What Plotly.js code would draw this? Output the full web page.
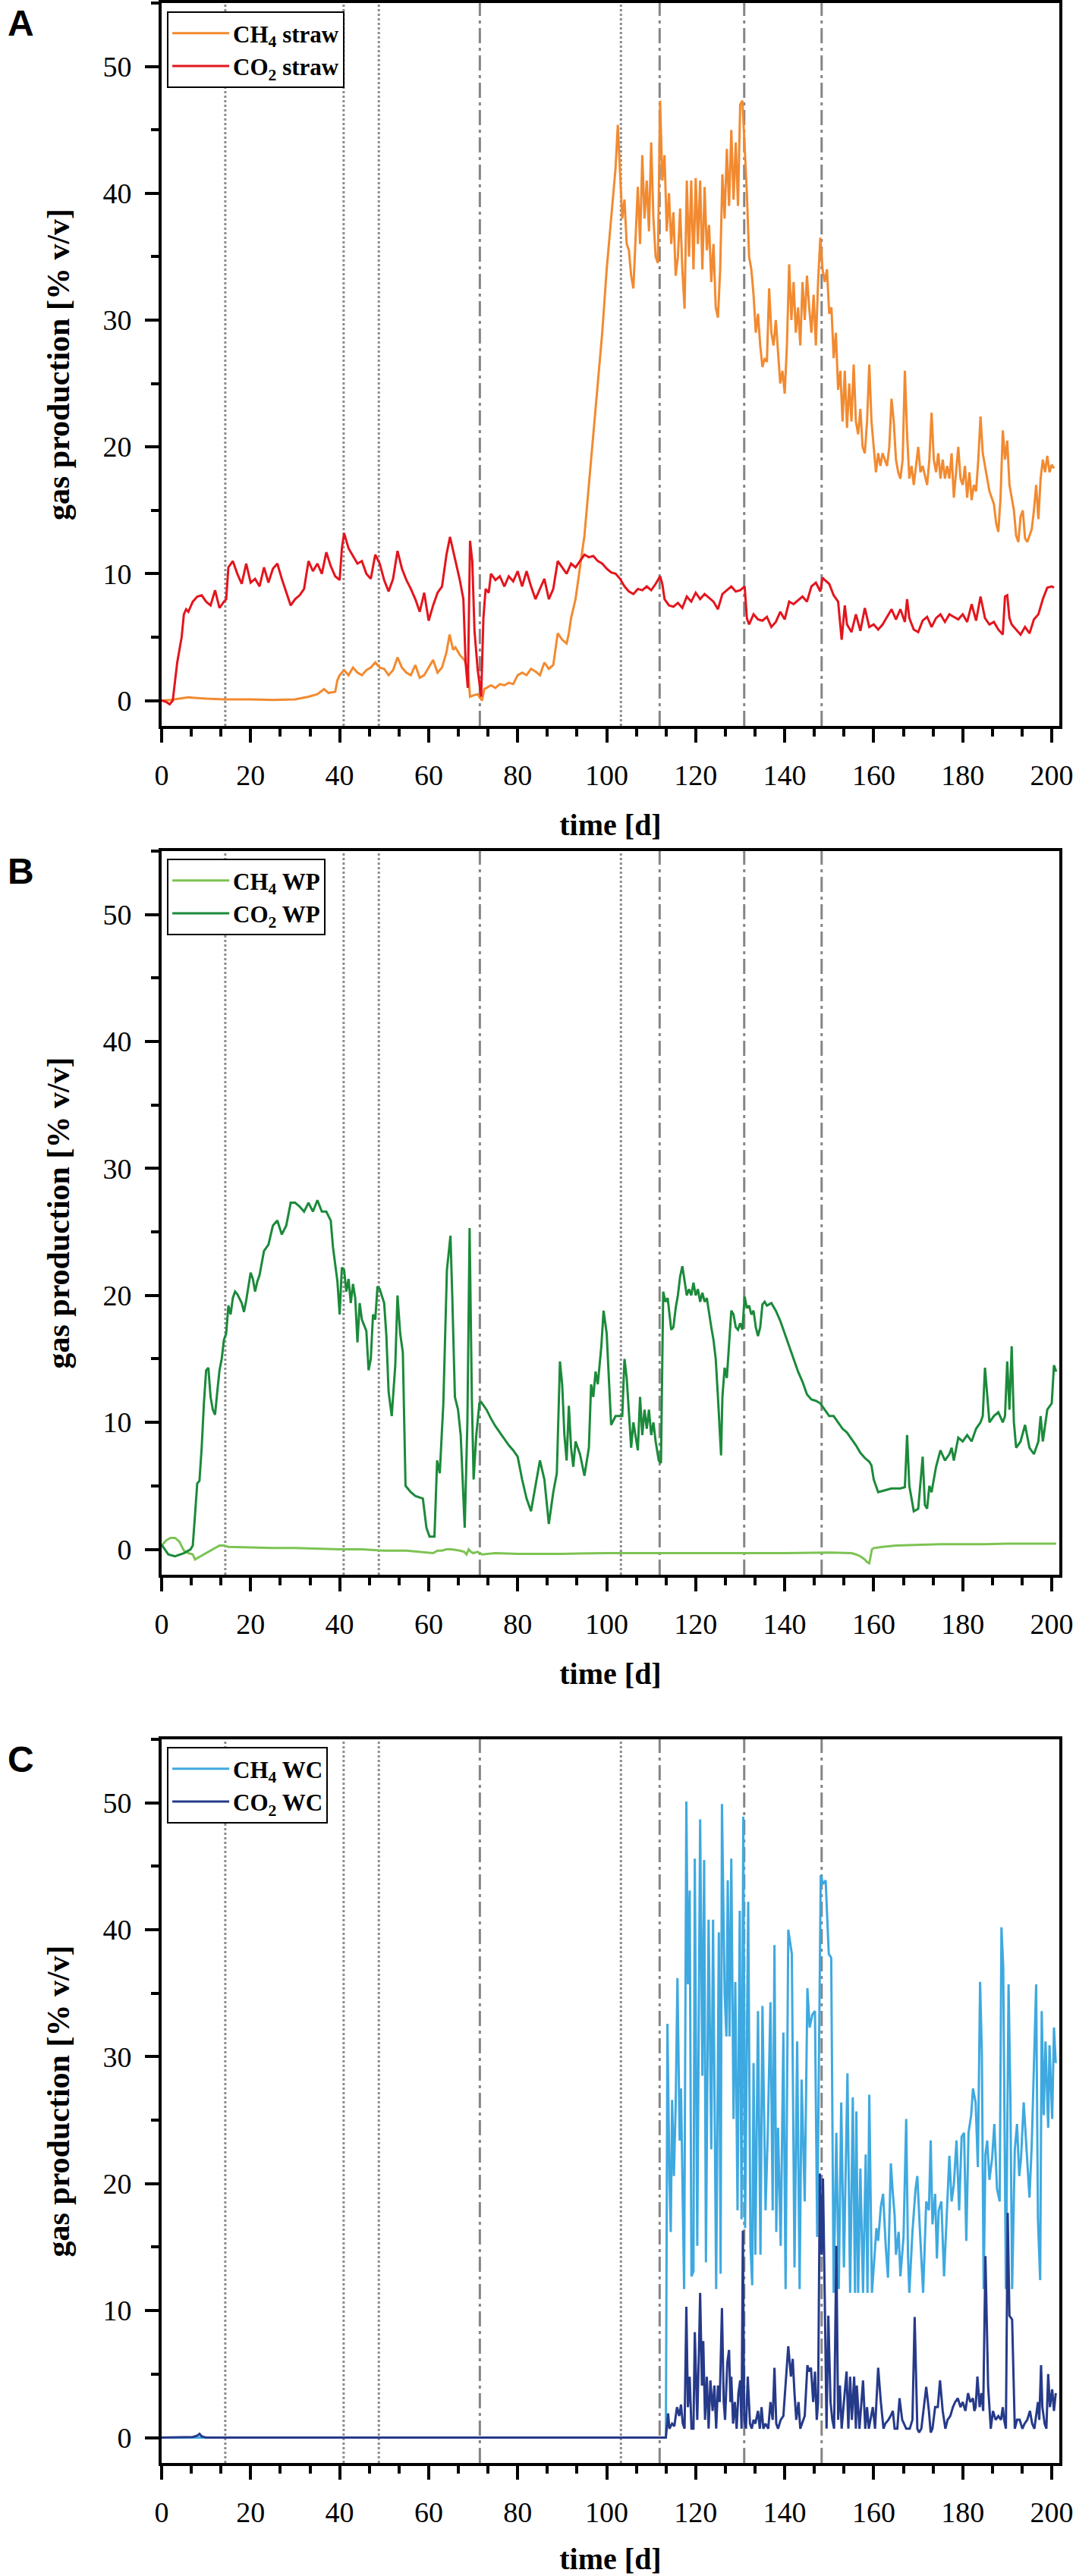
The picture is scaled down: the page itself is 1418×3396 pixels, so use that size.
<!DOCTYPE html>
<html>
<head>
<meta charset="utf-8">
<script src="https://cdn.plot.ly/plotly-3.0.1.min.js"></script>
<style>
html,body{margin:0;padding:0;background:#fff;}
#chart{width:1418px;height:3396px;}
</style>
</head>
<body>
<div id="chart"></div>
<script>
// ---------------- Panel A : straw ----------------
const dayA_CH4 = [0,2,4,6,8,10,14,20,25,30,33,35,36.5,37.5,39,39.5,40,41,42,43,44,45,46,47,48,49,50,51,52,53,54,55,56,57,58,59,60,61,62,63,64,64.7,65.5,66,67,68,68.8,69.3,70,71,72,72.5,73,74,75,76,77,78,79,80,81,82,83,84,85,86,87,88,89,90,91,91.5,92,93,94,95,96,97,98,99,100,101,102,102.5,103,103.5,104,104.5,105,105.5,106,106.5,107,107.5,108,108.5,109,109.5,110,110.5,111,111.5,112,112.5,113,113.5,114,114.5,115,115.5,116,116.5,117,117.5,118,118.5,119,119.5,120,120.5,121,121.5,122,122.5,123,123.5,124,124.5,125,125.5,126,126.5,127,127.5,128,128.5,129,129.5,130,130.5,131,131.5,132,132.5,133,133.5,134,134.5,135,135.5,136,136.5,137,137.5,138,138.5,139,139.5,140,140.5,141,141.5,142,142.5,143,143.5,144,144.5,145,145.5,146,146.5,147,147.5,148,148.5,149,149.5,150,150.5,151,151.5,152,152.5,153,153.5,154,154.5,155,155.5,156,156.5,157,157.5,158,158.5,159,159.5,160,160.5,161,161.5,162,163,163.5,164,164.5,165,165.5,166,166.5,167,167.5,168,168.5,169,170,170.5,171,172,172.5,173,173.5,174,174.5,175,175.5,176,176.5,177,177.5,178,178.5,179,179.5,180,180.5,181,181.5,182,182.5,183,183.5,184,184.5,185,185.5,186,186.5,187,187.5,188,188.5,189,189.5,190,190.5,191,191.5,192,192.5,193,193.5,194,194.5,195,195.5,196,196.5,197,197.5,198,198.5,199,199.5,200,200.5];
const valA_CH4 = [0,0.05,0.15,0.25,0.2,0.15,0.1,0.1,0.05,0.1,0.3,0.5,0.9,0.6,0.7,1.6,2.0,2.4,2.0,2.6,2.2,2.0,2.4,2.6,3.0,2.6,2.5,2.0,2.4,3.4,2.6,2.2,2.0,2.8,1.8,2.0,2.6,3.2,2.2,2.6,3.8,5.2,4.0,4.2,3.6,3.2,2.5,0.3,0.4,0.5,0.0,0.9,1.0,1.2,1.0,1.3,1.2,1.4,1.3,2.0,2.2,2.0,2.5,2.3,2.0,3.0,2.5,2.8,5.3,4.8,4.5,5.3,6.5,8.0,10.5,13.0,17,21,25,29,34,38,42,45.4,42,38,39.5,36,35.5,33.5,32.5,37,40.5,36,43,38,41,37,44,38,35,34.5,47.3,41,43,37,40,36,38.5,33.5,35,38.8,34,30.9,41,35,41,34,41.2,36,41,34,40.5,35.5,37.5,33,36,31,30.2,34,41.5,38,43.5,39,45,39.5,44,39,47,47.3,44,40,35,34,32,29,30.5,28,26.3,27,26.7,32.5,29,28,30,27.5,25,26,24.2,28,34.4,30,33,29,31,28,33,30,33.5,31,29,32,28,33,36.5,34,33,34,30.5,31,27,29,24.5,26,22,26,21.5,25,22,26.5,22,21,23,20,19.5,22,26.5,22,20,18,19.5,18.5,19.5,18.5,20,23.8,22,19,18,17.5,19,26,21,17.5,18.5,17,20,18,18.5,17,19,22.7,19,18,19.5,17.5,19,17.5,18.5,17.5,19.5,16,18,20,17.5,17,18.5,16,18,15.8,17,16.5,19,22.4,19.5,18.5,17.5,16.5,16,15.5,14,13.3,16,21.3,19,20.5,17,16,15,13,12.5,14.5,15,12.8,12.5,13,13.5,15,17,14.3,17.5,19,18,19.3,18,18.6,18.3];

const dayA_CO2 = [0,1,1.8,2.5,3,3.5,4,4.5,5,5.5,6,7,8,9,10,11,12,13,14,14.5,15,16,17,18,19,20,21,22,23,24,25,26,27,28,29,30,31,32,33,34,35,36,37,38,39,40,40.5,41,42,43,44,45,46,47,48,49,50,51,52,53,54,55,56,57,58,59,60,61,62,63,64,64.8,65.5,66,67,67.8,68.3,68.8,69.3,69.8,70.3,71,71.8,72.3,72.8,73.5,74,75,76,77,78,79,80,81,82,83,84,85,86,87,88,89,90,91,92,93,94,95,96,97,98,99,100,101,102,103,104,105,106,107,108,109,110,111,112,112.5,113,114,115,116,117,118,119,120,121,122,123,124,125,126,127,128,129,130,131,131.5,132,133,134,135,136,137,138,139,140,141,142,143,144,145,146,147,148,148.5,149,150,151,152,152.8,153.5,154,155,156,157,158,159,160,161,162,163,164,165,166,167,167.5,168,169,170,171,172,173,174,175,176,177,178,179,180,181,182,183,184,185,186,187,188,189,189.5,190,190.5,191,192,193,194,195,196,197,198,199,200,200.5];
const valA_CO2 = [0,-0.1,-0.3,0,1.5,3,4,5,6.8,7.2,7.0,7.8,8.2,8.3,7.8,7.5,8.7,7.3,7.8,8.0,10.5,11.0,10.0,9.2,10.8,9.3,9.6,9.0,10.5,9.3,10.4,10.8,9.6,8.6,7.5,8.0,8.3,8.8,11.0,10.2,10.8,10.0,11.7,10.6,9.8,9.5,12,13.2,12.0,11.4,10.8,11.0,10.0,9.6,11.5,10.8,9.5,8.6,9.6,11.8,10.4,9.5,8.8,8.0,7.0,8.5,6.3,7.5,8.5,9.0,11.5,12.9,11.8,11.0,9.5,8.0,3.0,1.0,12.6,11,5.5,2.5,0.3,6.5,8.8,8.5,10.0,9.5,9.8,9.0,9.8,9.4,10.2,9.0,10.2,9.0,8.0,8.8,9.6,8.0,8.8,11.0,10.5,10.0,10.8,10.5,11.0,11.5,11.3,11.4,11.0,10.8,10.4,10.1,10.0,9.6,9.0,8.6,8.4,8.8,8.7,9.0,8.7,9.2,9.8,9.2,8.0,7.5,7.4,7.7,7.3,8.2,7.8,8.5,8.0,8.4,8.1,7.8,7.2,8.4,8.7,9.0,8.6,8.7,9.0,6.5,6.0,6.8,6.4,6.3,6.6,5.8,6.2,7.0,6.4,7.8,7.6,7.9,8.2,7.8,9.0,9.3,8.6,9.7,9.5,9.2,8.3,7.8,4.8,7.5,6.0,5.4,6.8,5.5,7.3,5.8,6.0,5.6,6.0,6.6,7.2,6.4,7.2,6.2,8.0,6.5,5.6,5.4,6.3,6.6,5.8,6.5,6.8,6.2,6.8,6.6,6.4,6.8,6.2,7.6,6.3,8.2,6.5,6.0,6.2,5.6,5.2,8.2,8.3,6.5,6.0,5.6,5.2,5.8,5.3,6.4,6.8,8.0,8.9,9.0,8.9];

// ---------------- Panel B : WP ----------------
const dayB_CH4 = [0,1,2,3,4,5,6,7,7.5,8,9,10,11,12,13,14,15,20,25,30,35,40,45,50,55,58,60,61,62,63,64,65,66,67,68,68.5,69,69.5,70,71,72,75,80,90,100,110,120,130,140,150,155,156,157,158,158.5,159,159.3,159.6,160,162,165,170,175,180,185,190,195,201];
const valB_CH4 = [0.3,0.7,0.9,0.9,0.6,-0.1,-0.3,-0.4,-0.8,-0.7,-0.5,-0.3,-0.1,0.1,0.3,0.3,0.2,0.15,0.1,0.1,0.05,0,0,-0.1,-0.1,-0.2,-0.3,-0.3,-0.1,-0.1,0,0,-0.05,-0.1,-0.2,-0.4,0,-0.2,-0.3,-0.2,-0.4,-0.3,-0.35,-0.35,-0.3,-0.3,-0.3,-0.3,-0.3,-0.25,-0.3,-0.4,-0.55,-0.8,-1.0,-1.1,-0.5,0.0,0.1,0.2,0.3,0.35,0.4,0.4,0.4,0.45,0.45,0.45];

const dayB_CO2 = [0,1.5,3,5,6.5,7,7.5,8,8.5,9,9.5,10,10.5,11,11.5,12,12.5,13,13.5,14,14.5,15,15.5,16,16.5,17,18,18.5,19,20,20.5,21,21.5,22,23,24,25,26,27,28,29,30,31,32,33,34,35,36,37,38,38.5,39,39.5,40,40.5,41,41.5,42,42.5,43,43.5,44,44.5,45,46,46.5,47,47.5,48,48.5,49,50,50.5,51,51.7,52.5,53,53.6,54.2,54.8,56,57,58.7,59.5,60.2,61.3,61.9,62.5,63.3,64.1,64.9,65.3,65.9,66.6,67.2,68.1,68.7,69.2,69.7,70.1,70.7,71.4,71.8,73,74,75,76,77,78,79,80,81,82,83,84,85,86,87,88,88.8,89.5,90,90.5,91,91.5,92,92.5,93,94,95,96,96.5,97,97.5,98,98.8,99.3,100,101,102,103.5,104,104.5,105,105.5,106,107,107.5,108,108.5,109,109.5,110,110.5,111,111.7,112.2,112.7,113.2,113.7,114.5,115,115.5,116,116.5,117,117.5,118,118.5,119,119.5,120,120.5,121,121.5,122,122.5,123,123.5,124,124.5,125,125.3,125.7,126,126.5,127,127.5,128,128.5,129,129.5,130,130.5,131,131.5,132,132.5,133,133.5,134,134.5,135,135.5,136,137,138,139,140,141,142,143,144,145,146,147,148,149,150,151,152,153,154,155,156,157,158,159,159.5,160,161,162,163,164,165,166,167,167.5,168,168.5,169,170,170.5,171,171.5,172,172.5,173,174,175,176,177,177.5,178,179,180,181,182,183,184,184.5,185,186,187,188,189,189.5,190,190.5,191,191.5,192,193,194,195,196,197,197.5,198,199,200,200.5,201];
const valB_CO2 = [0.35,-0.4,-0.55,-0.3,0,0.3,2.7,5.2,5.4,8,11.5,14.1,14.3,12,11,10.6,12.4,14.1,15,16.5,17,19.2,18.5,19.8,20.3,20.1,19.4,18.7,19.6,21.8,21.3,20.3,21.1,21.6,23.5,24,25.5,25.9,24.8,25.5,27.3,27.3,27,26.6,27.3,26.6,27.5,26.6,26.6,25.9,23.8,22.4,21.1,18.5,22.2,22,20.3,21.3,19.4,20.9,19.8,16.3,19.4,18.1,17.2,14.1,15,18.5,18.1,20.7,20.5,19.4,16.8,12.4,10.5,14.5,20,17,15.5,5,4.5,4.2,4.0,1.7,1.0,1.0,7,6,11.5,22,24.7,20,12,11,9,1.7,10,25.3,12,5.5,9,11.5,11.6,11,10.3,9.7,9.2,8.7,8.2,7.8,7.3,5.5,4,3,5,7,5.5,2,4.5,6,14.8,13,9,7,11.3,8,6.5,8.5,7.5,5.8,8,13,12,14,13,16,18.8,17,9.8,10.5,10.5,15,13.5,11,8,10,7.8,12,9,11,9.5,11,9,10,8.5,7,6.8,20.3,19.5,19.8,17.3,17.5,19,20,21.5,22.3,21,20,20.5,20,21,20,20.5,19.5,20.2,19.5,19.8,18.5,17.5,16.5,15,12,10,7.4,12,14.3,13.5,16,18.8,18.5,17.5,17.3,17.8,17.3,19.9,19,19.2,18.5,18.8,17.5,16.8,17.5,19.3,19.5,19.2,19.4,18.8,18,17,16,15,14,13.2,12.2,11.8,11.7,11.5,11,10.5,10.5,10,9.5,9.2,8.7,8.2,7.6,7.2,6.9,6.6,5.5,4.5,4.6,4.7,4.8,4.8,4.8,4.9,9,5,4,3,3.2,5.5,7.3,3.5,3.2,5,4.5,6.5,7.8,7,7.5,8,7,8.8,8.5,9,8.5,9.5,10,10.5,14.3,10,10.5,10.8,10,10.5,14.8,11,16,10,8,8.5,9.8,8,7.5,8.5,10.5,8.5,11,11.5,14.5,14,15.5];

// ---------------- Panel C : WC ----------------
const dayC_CH4 = [0,113.0,113.3,113.65,114.1,114.4,114.7,115.1,115.5,115.9,116.4,116.7,117.1,117.4,117.9,118.25,118.65,119.05,119.5,119.8,120.35,121.0,121.5,121.9,122.3,122.9,123.5,123.9,124.6,125.2,125.6,125.9,126.5,126.9,127.2,127.6,128.0,128.5,128.9,129.4,129.9,130.3,130.7,131.1,131.8,132.3,132.7,133.0,133.4,134.0,134.55,135.0,135.7,136.2,136.8,137.3,137.7,138.1,138.5,139.1,139.7,140.2,140.8,141.6,142.2,142.8,143.35,143.8,144.5,145.1,145.6,146.2,146.8,147.3,148.1,148.6,149.2,149.9,150.45,151.0,151.6,152.15,152.7,153.3,154.1,154.7,155.3,155.8,156.1,156.5,157.0,157.6,158.2,158.6,159.0,159.6,160.2,160.6,161.0,161.6,162.1,162.7,163.2,163.85,164.3,164.7,165.0,165.6,166.0,166.7,167.3,167.7,168.0,168.7,169.4,169.8,170.4,171.1,171.8,172.4,172.8,173.2,173.8,174.2,174.6,175.2,175.8,176.5,177.0,177.5,178.0,178.6,179.2,179.75,180.3,180.8,181.3,181.9,182.3,182.9,183.4,183.9,184.3,184.7,185.1,185.5,186.0,186.6,187.1,187.7,188.3,188.7,189.1,189.7,190.3,190.7,191.1,191.7,192.2,192.7,193.1,193.7,194.4,195.0,195.5,195.9,196.5,196.9,197.4,197.75,198.2,198.6,199.2,199.5,200.1,200.5,200.9];
const valC_CH4 = [0,0,0,32.6,20.3,16.2,26.6,20.6,26.1,36.2,23.4,27.5,18.6,11.7,50.1,35.7,43.1,12.7,13.1,45.6,15.1,48.7,28.5,45.5,13.8,40.8,22.7,40.8,11.7,39.8,12.9,49.9,35.0,31.6,43.9,31.6,45.6,25.1,35.9,17.9,41.5,17.2,48.9,16.5,42.2,15.1,12.0,29.5,14.4,33.6,14.4,34.0,17.9,24.0,34.3,17.9,38.8,16.2,24.4,15.1,31.9,11.7,40.0,38.1,13.4,31.2,11.7,28.2,18.6,35.4,32.3,33.3,33.6,15.8,44.3,43.6,43.9,38.1,37.8,11.4,24.0,11.7,26.4,13.4,28.7,11.4,26.8,11.4,25.7,11.4,21.2,11.4,22.3,11.4,27.0,11.4,14.4,16.5,15.5,18.2,19.2,15.1,12.6,21.6,19.2,17.5,14.4,16.2,12.7,15.8,25.1,14.4,11.4,16.2,19.6,20.6,16.2,11.4,18.6,17.9,23.4,16.8,19.2,14.1,17.9,18.6,12.7,18.9,22.2,18.6,19.9,23.4,17.9,23.7,24.0,15.5,24.0,25.4,27.5,26.4,21.3,35.9,30.2,11.7,22.3,23.4,20.3,22.0,24.7,19.6,18.6,40.2,37.1,11.7,35.7,27.1,11.7,22.7,24.7,20.6,22.0,26.4,22.0,18.9,23.0,27.8,35.7,17.2,12.4,33.6,25.4,31.2,24.4,30.9,25.1,32.3,29.5];

const dayC_CO2 = [0,7,8,8.5,9,10,113.0,113.3,113.8,114.1,114.7,115.2,115.8,116.3,116.7,117.1,117.5,117.9,118.25,118.65,119.05,119.5,119.8,120.1,120.35,120.75,121.0,121.4,121.7,122.1,122.5,122.9,123.3,123.8,124.2,124.6,125.0,125.4,125.9,126.3,126.6,127.1,127.5,127.8,128.0,128.4,128.8,129.2,129.6,130.0,130.3,130.6,130.9,131.3,131.7,132.2,132.6,133.0,133.4,134.0,134.4,134.8,135.2,135.7,136.3,136.8,137.3,137.7,138.1,138.5,139.1,139.7,140.2,140.8,141.4,141.8,142.2,142.6,143.1,143.5,143.9,144.5,145.1,145.5,145.9,146.4,146.8,147.2,147.5,147.9,148.3,148.6,149.0,149.4,149.8,150.3,150.7,151.1,151.6,152.0,152.4,152.8,153.3,153.9,154.3,154.7,155.1,155.6,156.0,156.2,156.8,157.2,157.6,158.1,158.5,158.9,159.3,159.8,160.3,161.0,161.6,162.2,162.6,163.3,163.8,164.3,164.7,165.3,165.8,166.4,166.8,167.3,167.5,168.1,168.7,169.2,169.8,170.2,170.7,171.2,171.8,172.4,172.8,173.2,173.8,174.4,174.9,175.5,176.1,176.6,177.2,177.8,178.3,178.9,179.5,180.0,180.6,181.2,181.7,182.3,182.6,182.9,183.3,183.8,184.2,184.6,185.1,185.7,186.3,186.8,187.4,188.0,188.6,189.0,189.3,189.7,190.1,190.5,191.1,191.7,192.2,192.8,193.4,193.9,194.5,195.1,195.6,196.1,196.5,196.9,197.2,197.6,197.9,198.4,198.8,199.2,199.6,200.1,200.5,200.9];
const valC_CO2 = [0,0.05,0.15,0.3,0.1,0,0,0,1.9,0.7,1.1,0.9,2.4,1.7,2.6,1.1,0.7,10.3,2.4,4.8,0.7,0.7,8.3,3.5,1.4,7.2,11.4,4.1,7.6,1.4,4.8,0.7,4.5,2.1,4.1,0.7,4.1,2.8,10.2,2.8,1.4,5.9,6.9,2.8,4.8,1.1,2.8,0.7,3.5,4.5,0.7,16.3,1.4,0.7,4.8,1.1,0.7,1.4,1.1,2.1,0.7,2.4,0.7,1.1,0.7,2.8,1.4,5.5,1.1,0.7,1.4,1.7,4.1,7.2,4.8,6.2,3.5,1.4,2.8,0.7,1.1,1.7,5.7,5.2,5.5,2.8,5.2,1.4,2.8,20.8,14.4,20.4,11.0,0.7,9.6,2.8,1.4,0.7,15.1,1.4,4.1,0.7,2.8,5.2,0.7,4.8,1.4,4.8,0.7,4.1,0.7,2.8,4.5,0.7,2.4,0.7,1.4,2.4,0.7,5.5,2.8,0.7,1.1,1.4,1.7,2.1,0.7,0.7,3.1,1.4,1.1,0.7,0.7,0.7,1.4,9.5,0.7,0.4,0.7,2.1,4.0,2.1,0.4,0.7,2.4,2.4,4.5,2.1,0.7,1.4,1.7,2.4,2.8,3.1,2.4,2.8,2.1,3.5,2.8,3.1,2.1,2.4,4.8,2.4,3.5,2.1,14.3,4.1,0.7,2.1,1.4,1.7,1.4,2.4,1.4,0.7,17.7,9.6,9.3,0.7,1.4,1.4,0.7,1.1,1.4,2.1,1.1,0.7,1.7,2.8,1.4,5.7,2.4,1.1,0.7,5.0,2.4,3.8,2.1,3.5,2.1,3.5,3.1];

// vertical marker lines (days)
const dottedDays = [14.3, 40.9, 48.8, 103.2];
const dashDotDays = [71.5, 111.9, 130.9, 148.3];

// labels
const panelLabels = ['A','B','C'];
const legendNames = [
  ['CH<sub>4</sub> straw','CO<sub>2</sub> straw'],
  ['CH<sub>4</sub> WP','CO<sub>2</sub> WP'],
  ['CH<sub>4</sub> WC','CO<sub>2</sub> WC']
];
const colors = [['#F28A30','#E3151D'],['#7DC353','#1B8A3A'],['#3EA9E0','#263A8A']];
const xTitle = 'time [d]';
const yTitle = 'gas production [% v/v]';

// ---------------- figure geometry ----------------
const H = 3396;
const plotTops = [4, 1122, 2293];
const plotBottoms = [957, 2076, 3247];
const legendTops = [15, 1132, 2303];

const serif = 'Liberation Serif';
const tickFont = {family: serif, size: 38, color: '#000'};
const xTitleFont = {family: serif, size: 40, color: '#000'};
const yTitleFont = {family: serif, size: 42, color: '#000'};

const series = [
  [[dayA_CH4, valA_CH4],[dayA_CO2, valA_CO2]],
  [[dayB_CH4, valB_CH4],[dayB_CO2, valB_CO2]],
  [[dayC_CH4, valC_CH4],[dayC_CO2, valC_CO2]]
];

const traces = [];
const layout = {
  width: 1418, height: H,
  margin: {l: 213, r: 22, t: 0, b: 0, pad: 0},
  paper_bgcolor: '#fff', plot_bgcolor: '#fff',
  showlegend: true,
  shapes: [], annotations: []
};

for (let p = 0; p < 3; p++) {
  const sfx = p === 0 ? '' : String(p + 1);
  const xName = 'x' + sfx, yName = 'y' + sfx;
  const legName = 'legend' + sfx;
  for (let s = 0; s < 2; s++) {
    traces.push({
      type: 'scatter', mode: 'lines',
      x: series[p][s][0], y: series[p][s][1],
      name: '<b>' + legendNames[p][s] + '</b>',
      line: {color: colors[p][s], width: 3},
      xaxis: xName, yaxis: yName, legend: legName
    });
  }
  layout['xaxis' + sfx] = {
    domain: [0, 1], anchor: yName, range: [0, 201.7],
    dtick: 20, tick0: 0, ticks: 'outside', ticklen: 18, tickwidth: 4, tickcolor: '#000',
    showline: true, linecolor: '#000', linewidth: 4, mirror: true,
    showgrid: false, zeroline: false, tickfont: tickFont, ticklabelstandoff: 10,
    minor: {dtick: 20/3, tick0: 0, ticks: 'outside', ticklen: 10, tickwidth: 4, tickcolor: '#000', showgrid: false},
    title: {text: '<b>' + xTitle + '</b>', font: xTitleFont, standoff: 32},
    automargin: false, fixedrange: true
  };
  layout['yaxis' + sfx] = {
    domain: [1 - plotBottoms[p] / H, 1 - plotTops[p] / H], anchor: xName, range: [-2, 55],
    dtick: 10, tick0: 0, ticks: 'outside', ticklen: 18, tickwidth: 4, tickcolor: '#000',
    showline: true, linecolor: '#000', linewidth: 4, mirror: true,
    showgrid: false, zeroline: false, tickfont: tickFont, ticklabelstandoff: 10,
    minor: {dtick: 5, tick0: 0, ticks: 'outside', ticklen: 10, tickwidth: 4, tickcolor: '#000', showgrid: false},
    title: {text: '<b>' + yTitle + '</b>', font: yTitleFont, standoff: 32},
    automargin: false, fixedrange: true
  };
  layout[legName] = {
    x: 0.006, y: 1 - legendTops[p] / H, xanchor: 'left', yanchor: 'top',
    bgcolor: '#fff', bordercolor: '#000', borderwidth: 2,
    font: {family: serif, size: 31, color: '#000'},
    itemwidth: 75, tracegroupgap: 0
  };
  dottedDays.forEach(d => layout.shapes.push({
    type: 'line', xref: xName, yref: yName + ' domain', x0: d, x1: d, y0: 0, y1: 1,
    line: {color: '#8C8C8C', width: 3, dash: 'dot'}, layer: 'below'
  }));
  dashDotDays.forEach(d => layout.shapes.push({
    type: 'line', xref: xName, yref: yName + ' domain', x0: d, x1: d, y0: 0, y1: 1,
    line: {color: '#858585', width: 3, dash: '20px,6px,4px,6px'}, layer: 'below'
  }));
  layout.annotations.push({
    text: '<b>' + panelLabels[p] + '</b>', xref: 'paper', yref: 'paper',
    x: (8 - 213) / 1183, y: 1 - (plotTops[p] - 2) / H, xanchor: 'left', yanchor: 'top',
    showarrow: false, font: {family: 'Liberation Sans', size: 48, color: '#000'}
  });
}

Plotly.newPlot('chart', traces, layout, {staticPlot: true, displayModeBar: false});
</script>
</body>
</html>
